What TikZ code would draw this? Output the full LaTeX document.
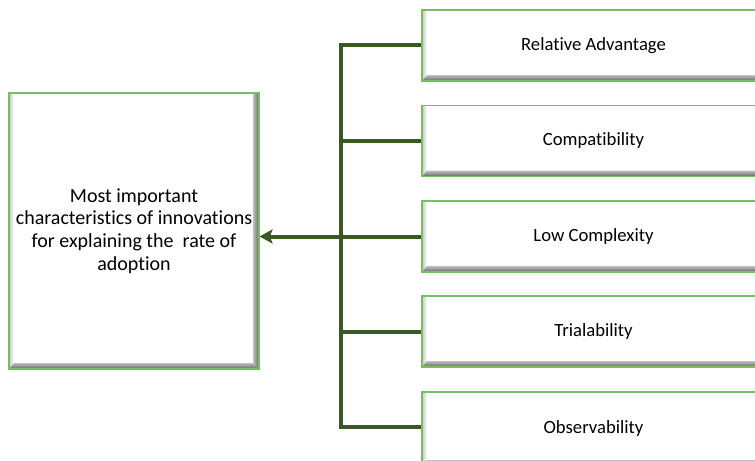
\documentclass[tikz,border=0pt]{standalone}
\usepackage{fontspec}
\setmainfont{Carlito}[Ligatures=NoCommon]
\usetikzlibrary{arrows.meta,calc,shadings}
\definecolor{conngreen}{RGB}{58,88,38}
\definecolor{boxgreen}{RGB}{120,190,95}
\tikzset{
  bevelbox/.style={rectangle, draw=boxgreen, line width=0.8pt, fill=white,
    inner sep=0pt, align=center, font=\fontsize{14pt}{17pt}\selectfont,
    path picture={
      \path (path picture bounding box.south west) coordinate (bsw)
            (path picture bounding box.north east) coordinate (bne);
      \shade[left color=black!22, right color=white]
        (bsw |- bne) -- (bsw) -- ($(bsw)+(5,-6)$) -- ($(bsw |- bne)+(5,0)$) -- cycle;
      \shade[left color=black!25, right color=black!60]
        (bne) -- ($(bne)+(-6,0)$) -- ($(bsw -| bne)+(-6,-6)$) -- (bsw -| bne) -- cycle;
      \shade[top color=black!25, bottom color=black!60]
        (bsw) -- (bsw -| bne) -- ($(bsw -| bne)+(-6,-6)$) -- ($(bsw)+(5,-6)$) -- cycle;
    }},
  rightbox/.style={bevelbox, minimum width=257.25pt, minimum height=53.25pt},
  conn/.style={draw=conngreen, line width=3pt, line join=miter}
}
\begin{document}
\begin{tikzpicture}[x=0.75pt,y=-0.75pt]
\useasboundingbox (0,0) rectangle (755,460);
\clip (0,0) rectangle (755,460);
\fill[white] (0,0) rectangle (755,460);
\node[bevelbox, minimum width=187.5pt, minimum height=207pt,
      font=\fontsize{15pt}{17pt}\selectfont] (main) at (134,231)
  {Most important\\characteristics of innovations\\for explaining the~ rate of\\adoption};
\node[rightbox] (b1) at (593.5,45.5) {Relative Advantage};
\node[rightbox] (b2) at (593.5,141) {Compatibility};
\node[rightbox] (b3) at (593.5,236.5) {Low Complexity};
\node[rightbox] (b4) at (593.5,331.5) {Trialability};
\node[rightbox, minimum height=55.5pt] (b5) at (593.5,429) {Observability};
\coordinate (busbot) at (341,427);
\draw[conn] (b1.west) -| (busbot) -- (busbot -| b5.west);
\draw[conn] (b2.west) -- (b2.west -| busbot);
\draw[conn] (b4.west) -- (b4.west -| busbot);
\draw[conn, -{Stealth[length=9.75pt, width=10.5pt, inset=2pt]}] (b3.west) -- (b3.west -| main.east);
\end{tikzpicture}
\end{document}
